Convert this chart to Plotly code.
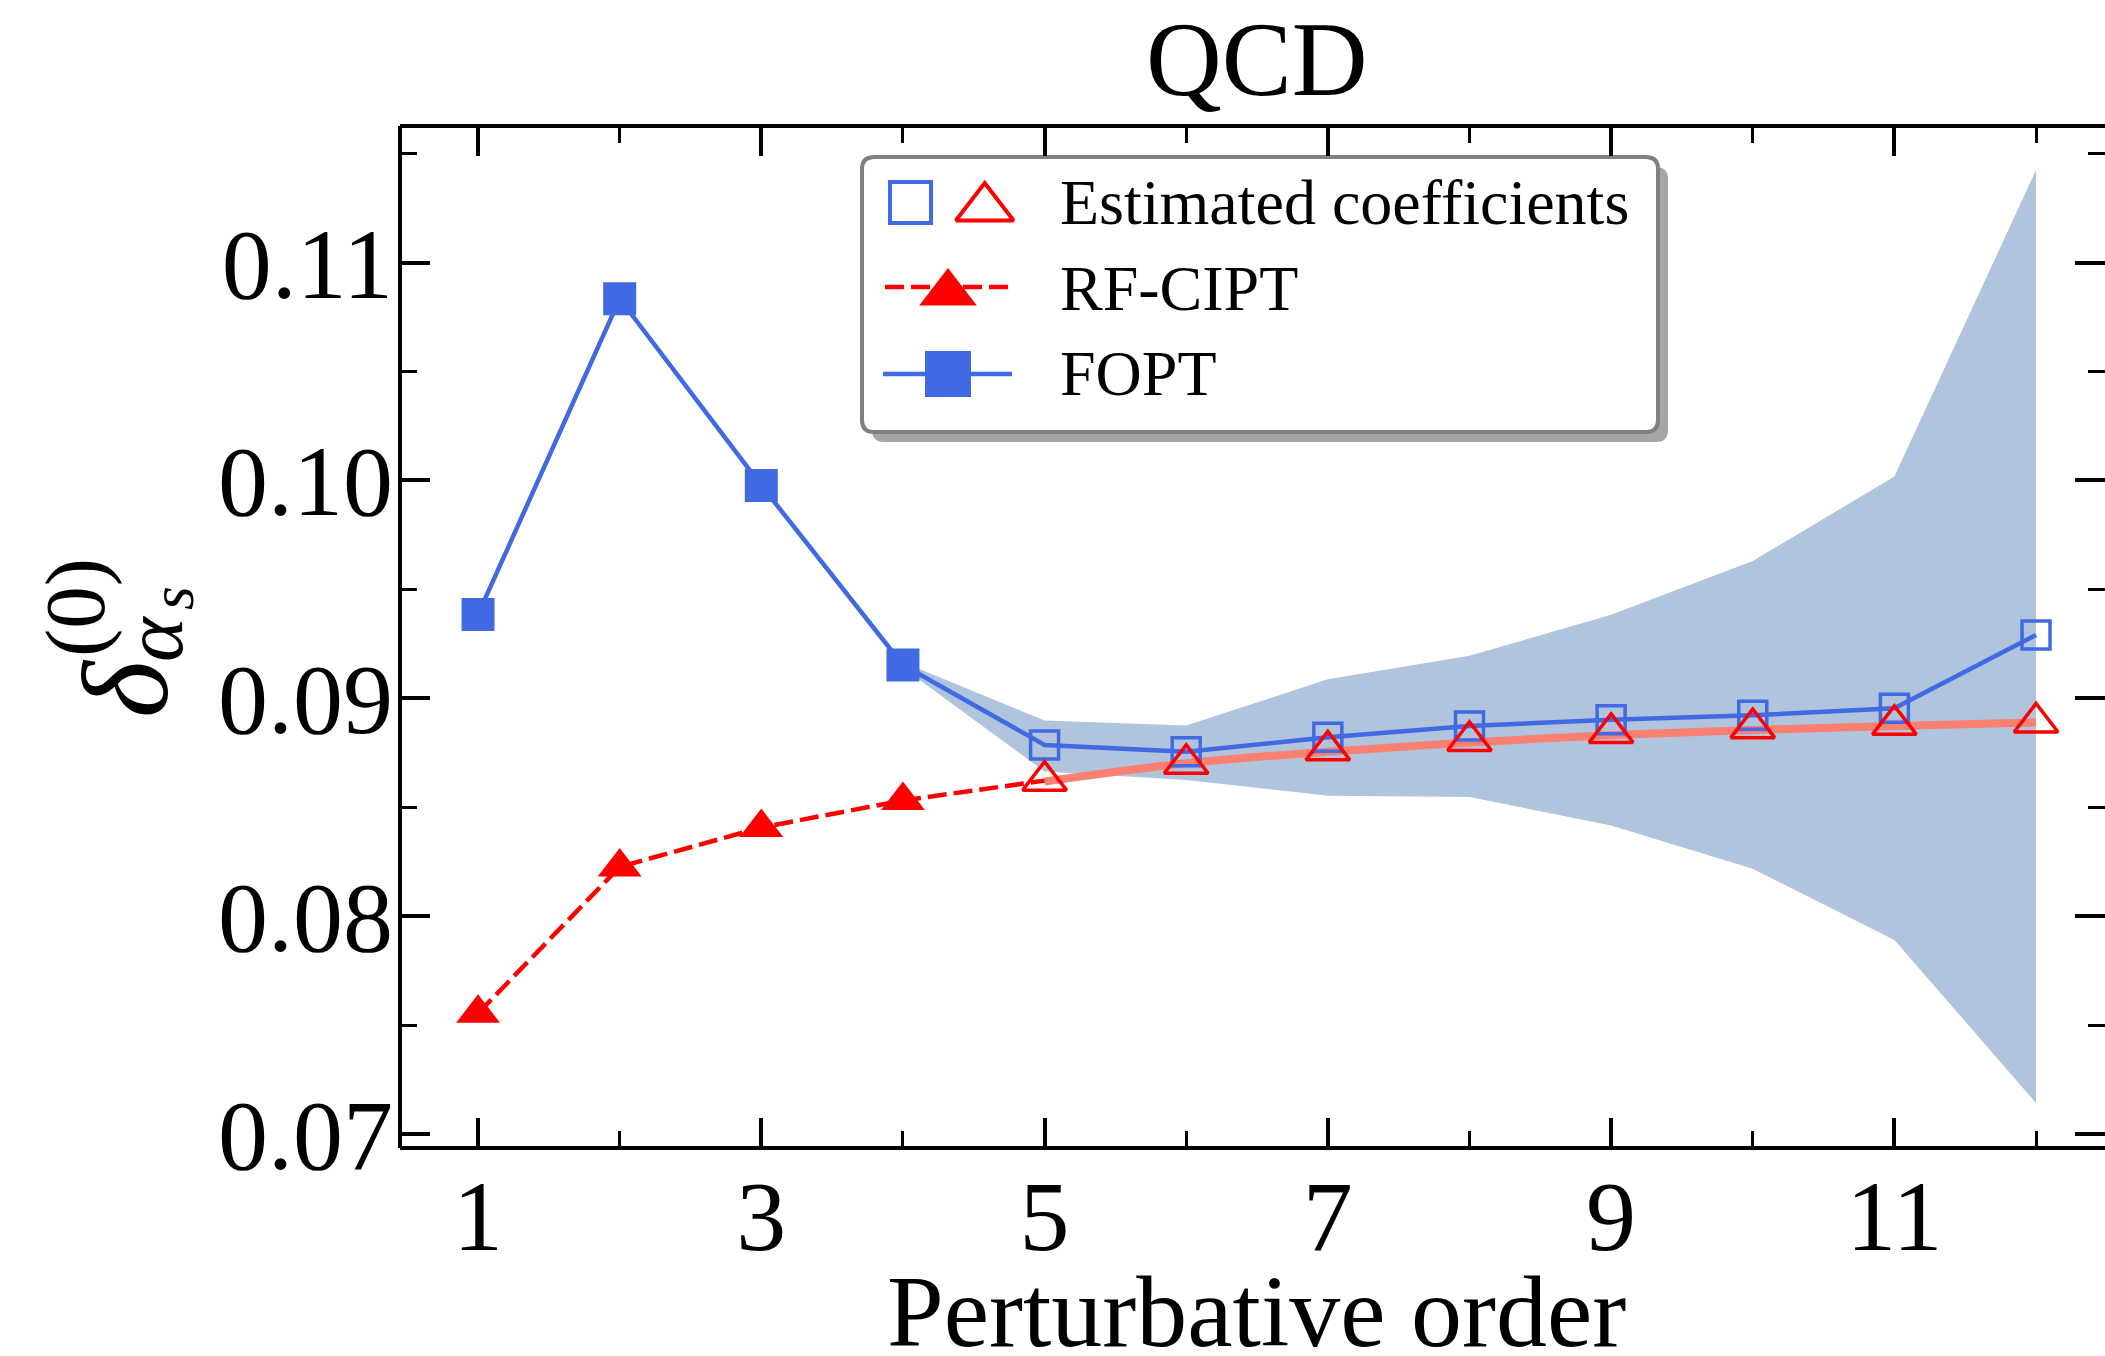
import plotly.graph_objects as go

# ---------------- data ----------------
orders = [1, 2, 3, 4, 5, 6, 7, 8, 9, 10, 11, 12]
fopt = [0.09385, 0.10834, 0.09977, 0.09153, 0.08786, 0.08755, 0.08821, 0.08873,
        0.08901, 0.08922, 0.08954, 0.09291]
rf_cipt = [0.07554, 0.08226, 0.08407, 0.08531, 0.08622, 0.08699, 0.08761, 0.08804,
           0.08841, 0.08863, 0.08878, 0.08889]
n_known = 4  # orders with exactly known coefficients (filled markers)

band_orders = [4, 5, 6, 7, 8, 9, 10, 11, 12]
band_upper = [0.09165, 0.08898, 0.08875, 0.09087, 0.09195, 0.09383, 0.09630, 0.10018, 0.11425]
band_lower = [0.09140, 0.08664, 0.08625, 0.08553, 0.08547, 0.08416, 0.08217, 0.07891, 0.07142]

rf_curve_orders = [5, 6, 7, 8, 9, 10, 11, 12]
rf_curve = [0.08618, 0.08702, 0.08755, 0.08797, 0.08832, 0.08855, 0.08873, 0.08889]

xtick_vals = [1, 3, 5, 7, 9, 11]
xtick_text = ["1", "3", "5", "7", "9", "11"]
xminor_vals = [2, 4, 6, 8, 10, 12]
ytick_vals = [0.07, 0.08, 0.09, 0.10, 0.11]
ytick_text = ["0.07", "0.08", "0.09", "0.10", "0.11"]
yminor_vals = [0.075, 0.085, 0.095, 0.105, 0.115]

legend_labels = ["Estimated coefficients", "RF-CIPT", "FOPT"]
title_text = "QCD"
xlabel_text = "Perturbative order"

# ---------------- styling ----------------
W, H = 2105, 1356
L, R, T, B = 400, 2105, 126, 1148
FONT = "Liberation Serif"
BLUE = "#4169E1"
RED = "#FF0000"
SALMON = "#FA8072"
BAND = "#B0C4DE"


def px(x):
    return (x - L) / (R - L)


def py(y):
    return (B - y) / (B - T)


fig = go.Figure()

# uncertainty band
fig.add_trace(go.Scatter(x=band_orders, y=band_lower, mode="lines",
                         line=dict(width=0, color=BAND), hoverinfo="skip"))
fig.add_trace(go.Scatter(x=band_orders, y=band_upper, mode="lines", fill="tonexty",
                         fillcolor=BAND, line=dict(width=0, color=BAND), hoverinfo="skip"))
# RF-CIPT smooth continuation
fig.add_trace(go.Scatter(x=rf_curve_orders, y=rf_curve, mode="lines",
                         line=dict(color=SALMON, width=8, shape="spline")))
# FOPT
fig.add_trace(go.Scatter(x=orders, y=fopt, mode="lines", line=dict(color=BLUE, width=4.5)))
fig.add_trace(go.Scatter(x=orders[:n_known], y=fopt[:n_known], mode="markers",
                         marker=dict(symbol="square", size=33, color=BLUE)))
fig.add_trace(go.Scatter(x=orders[n_known:], y=fopt[n_known:], mode="markers",
                         marker=dict(symbol="square-open", size=28, color=BLUE,
                                     line=dict(width=3.5, color=BLUE))))
# RF-CIPT
fig.add_trace(go.Scatter(x=orders[:n_known + 1], y=rf_cipt[:n_known + 1], mode="lines",
                         line=dict(color=RED, width=4.5, dash="19px,7px")))
fig.add_trace(go.Scatter(x=orders[:n_known], y=rf_cipt[:n_known], mode="markers",
                         marker=dict(symbol="triangle-up", size=38, color=RED)))
fig.add_trace(go.Scatter(x=orders[n_known:], y=rf_cipt[n_known:], mode="markers",
                         marker=dict(symbol="triangle-up-open", size=38, color=RED,
                                     line=dict(width=3.5, color=RED))))

# ---------------- legend (drawn on pixel-coordinate overlay axes) ----------------
leg_traces = [
    dict(x=[910.5], y=[202.5], mode="markers",
         marker=dict(symbol="square-open", size=41, color=BLUE, line=dict(width=4, color=BLUE))),
    dict(x=[984.7], y=[208], mode="markers",
         marker=dict(symbol="triangle-up-open", size=50, color=RED, line=dict(width=4, color=RED))),
    dict(x=[885, 1009], y=[287, 287], mode="lines", line=dict(color=RED, width=4.5, dash="19px,7px")),
    dict(x=[948], y=[293], mode="markers", marker=dict(symbol="triangle-up", size=50, color=RED)),
    dict(x=[883, 1012], y=[374, 374], mode="lines", line=dict(color=BLUE, width=4.5)),
    dict(x=[948], y=[374], mode="markers", marker=dict(symbol="square", size=46, color=BLUE)),
]
for t in leg_traces:
    fig.add_trace(go.Scatter(xaxis="x2", yaxis="y2", hoverinfo="skip", **t))


def rrect(x0, y0, x1, y1, r):
    return (f"M{x0 + r},{y0} L{x1 - r},{y0} Q{x1},{y0} {x1},{y0 + r} "
            f"L{x1},{y1 - r} Q{x1},{y1} {x1 - r},{y1} L{x0 + r},{y1} "
            f"Q{x0},{y1} {x0},{y1 - r} L{x0},{y0 + r} Q{x0},{y0} {x0 + r},{y0} Z")


shapes = [
    dict(type="path", xref="x2", yref="y2", path=rrect(872, 167, 1668, 442, 12),
         fillcolor="#A6A6A6", line=dict(width=0), layer="below"),
    dict(type="path", xref="x2", yref="y2", path=rrect(862, 157, 1658, 432, 12),
         fillcolor="white", line=dict(width=4, color="#808080"), layer="below"),
    # frame
    dict(type="line", xref="paper", yref="paper", x0=0, x1=0, y0=0, y1=1,
         line=dict(width=4, color="black"), layer="above"),
    dict(type="line", xref="paper", yref="paper", x0=0, x1=1, y0=0, y1=0,
         line=dict(width=4, color="black"), layer="above"),
    dict(type="line", xref="paper", yref="paper", x0=0, x1=1, y0=1, y1=1,
         line=dict(width=4, color="black"), layer="above"),
]

annotations = []
leg_rows_y = [202.4, 288.4, 373.4]
for lab, yy in zip(legend_labels, leg_rows_y):
    annotations.append(dict(x=px(1058), y=py(yy), xref="paper", yref="paper", text=lab,
                            showarrow=False, xanchor="left", yanchor="middle",
                            font=dict(family=FONT, size=64, color="black")))
# title
annotations.append(dict(x=px(1257), y=py(59.6), xref="paper", yref="paper", text=title_text,
                        showarrow=False, xanchor="center", yanchor="middle",
                        font=dict(family=FONT, size=105, color="black")))
# x label
annotations.append(dict(x=px(1256), y=py(1311), xref="paper", yref="paper", text=xlabel_text,
                        showarrow=False, xanchor="center", yanchor="middle",
                        font=dict(family=FONT, size=102, color="black")))
# y label pieces: delta^(0)_{alpha_s}
ylab_parts = [
    ("<i>δ</i>", 125, 689, 122),
    ("(0)", 75, 608, 85),
    ("<i>α</i>", 153, 639, 85),
    ("<i>s</i>", 172, 598, 61),
]
for txt, xx, yy, fs in ylab_parts:
    annotations.append(dict(x=px(xx), y=py(yy), xref="paper", yref="paper", text=txt,
                            showarrow=False, xanchor="center", yanchor="middle", textangle=-90,
                            font=dict(family=FONT, size=fs, color="black")))

axis_common = dict(showgrid=False, zeroline=False, showline=False, mirror="ticks",
                   ticks="inside", ticklen=30, tickwidth=4, tickcolor="black",
                   tickfont=dict(family=FONT, size=100, color="black"))

fig.update_layout(
    width=W, height=H,
    margin=dict(l=L, r=W - R, t=T, b=H - B, pad=0),
    paper_bgcolor="white", plot_bgcolor="white",
    showlegend=False, hovermode=False,
    xaxis=dict(range=[0.449, 12.487], tickmode="array", tickvals=xtick_vals, ticktext=xtick_text,
               ticklabelstandoff=1,
               minor=dict(tickmode="array", tickvals=xminor_vals, ticks="inside", ticklen=17,
                          tickwidth=3, tickcolor="black"),
               **axis_common),
    yaxis=dict(range=[0.069357, 0.116270], tickmode="array", tickvals=ytick_vals, ticktext=ytick_text,
               ticklabelstandoff=6,
               minor=dict(tickmode="array", tickvals=yminor_vals, ticks="inside", ticklen=17,
                          tickwidth=3, tickcolor="black"),
               **axis_common),
    xaxis2=dict(overlaying="x", anchor="y2", range=[L, R], visible=False, fixedrange=True),
    yaxis2=dict(overlaying="y", anchor="x2", range=[B, T], visible=False, fixedrange=True),
    shapes=shapes,
    annotations=annotations,
)

fig.write_html("out.html")
